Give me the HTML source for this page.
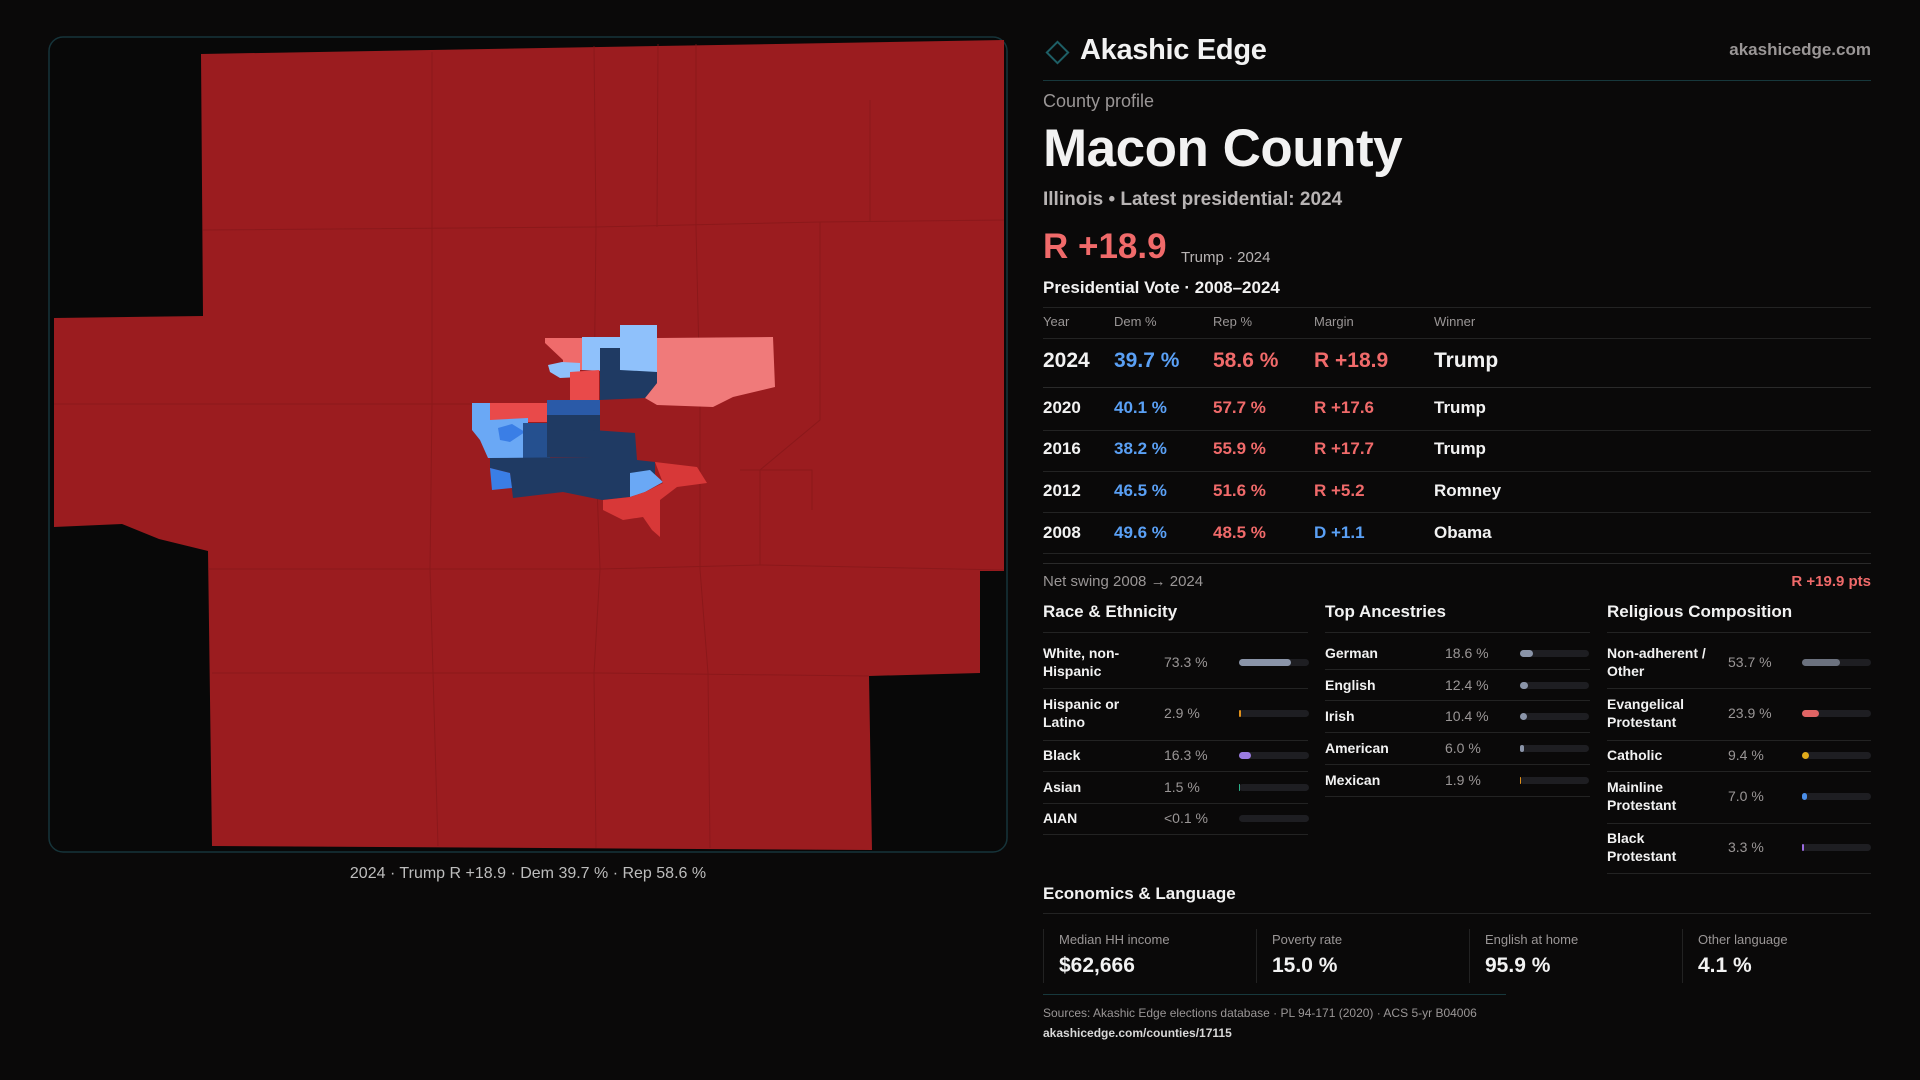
<!DOCTYPE html>
<html><head><meta charset="utf-8"><style>
*{margin:0;padding:0;box-sizing:border-box}
body{width:1920px;height:1080px;background:#0a0909;font-family:"Liberation Sans",sans-serif;color:#f2f2f2;position:relative;overflow:hidden}
.t{position:absolute;white-space:nowrap}
.hl{position:absolute;height:1px;background:#232323}
.g{color:#9a9696}
.b{color:#5aa0f5}.r{color:#f06a6a}
.bar{position:absolute;height:7px;border-radius:4px;background:#1e1e22}
.bar i{position:absolute;left:0;top:0;bottom:0;border-radius:4px}
.two{white-space:normal;line-height:18px;font-size:14px;font-weight:600;width:100px}
</style></head><body>
<svg style="position:absolute;left:0;top:0" width="1920" height="1080" viewBox="0 0 1920 1080">
<rect x="49" y="37" width="958" height="815" rx="14" fill="#080808" stroke="#16343a" stroke-width="1.5"/>
<polygon fill="#9b1c1f" points="201,54 1004,40 1004,571 980,571 980,673 869,676 872,850 212,846 208,551 159,539 122,524 54,527 54,318 203,316"/>
<g stroke="#851719" stroke-width="1" fill="none" opacity="0.7">
<polyline points="432,52 432,404 430,569 438,846"/>
<polyline points="594,46 596,227 594,404 600,569 594,673 596,848"/>
<polyline points="658,44 657,227"/>
<polyline points="696,44 696,227 700,400 700,569 708,673 710,848"/>
<polyline points="203,230 594,227 820,222 1004,220"/>
<polyline points="54,404 432,404 600,404"/>
<polyline points="208,569 600,569 760,565 1004,570"/>
<polyline points="212,673 600,673 869,676"/>
<polyline points="820,222 820,420 760,470 760,565"/>
<polyline points="870,100 870,222"/>
<polyline points="740,470 812,470 812,510"/>
</g>
<polygon fill="#f07a7a" points="657,338 773,337 775,387 733,397 713,407 657,405 645,398 657,383"/>
<polygon fill="#8fc1fb" points="582,337 620,337 620,325 657,325 657,373 582,370"/>
<polygon fill="#1f3a63" points="600,348 620,348 620,370 657,372 657,383 645,398 600,400"/>
<polygon fill="#ef6b6b" points="545,338 582,338 582,370 563,370 563,360 545,343"/>
<polygon fill="#8fc1fb" points="548,365 562,362 580,363 580,377 560,378 550,372"/>
<polygon fill="#e94a4a" points="570,372 599,370 599,400 570,400"/>
<polygon fill="#e94a4a" points="490,403 547,403 547,422 490,422"/>
<polygon fill="#6aa8f5" points="472,403 490,403 490,420 528,418 528,458 488,458 480,440 472,430"/>
<polygon fill="#3a7ee6" points="498,428 512,424 525,432 510,442 500,440"/>
<polygon fill="#25508f" points="523,423 550,423 550,458 523,458"/>
<polygon fill="#1f3a63" points="547,400 600,400 600,457 547,457"/>
<polygon fill="#2a5aa8" points="547,400 600,400 600,415 547,415"/>
<polygon fill="#1f3a63" points="490,458 593,457 593,430 635,433 637,460 655,462 655,477 637,483 630,497 602,500 563,492 513,498 510,473 490,468"/>
<polygon fill="#3a7ee6" points="490,468 510,473 512,488 492,490"/>
<polygon fill="#6aa8f5" points="630,473 650,470 663,482 645,492 630,497"/>
<polygon fill="#d83838" points="655,462 697,467 707,483 677,487 660,500 660,537 652,530 643,517 623,520 603,510 603,500 630,497 645,492 663,483"/>
</svg>
<div class="t" style="left:0;width:1056px;text-align:center;top:865px;font-size:16px;color:#bdbdbd">2024 · Trump R +18.9 · Dem 39.7 % · Rep 58.6 %</div>

<div class="t" style="left:1049px;top:44px;width:17px;height:17px;border:2px solid #1e5f66;transform:rotate(45deg)"></div>
<div class="t" style="left:1080px;top:32px;font-size:29px;font-weight:700;line-height:36px;letter-spacing:-0.3px">Akashic Edge</div>
<div class="t g" style="right:49px;top:40px;font-size:17px;font-weight:600">akashicedge.com</div>
<div class="hl" style="left:1043px;width:828px;top:80px;background:#17383c"></div>
<div class="t g" style="left:1043px;top:91px;font-size:18px">County profile</div>
<div class="t" style="left:1043px;top:119px;font-size:53px;font-weight:700;line-height:60px;letter-spacing:-0.5px">Macon County</div>
<div class="t" style="left:1043px;top:189px;font-size:19px;font-weight:600;color:#b8b4b4">Illinois • Latest presidential: 2024</div>
<div class="t r" style="left:1043px;top:226px;font-size:35px;font-weight:600;line-height:42px">R +18.9</div>
<div class="t g" style="left:1181px;top:249px;font-size:15px;color:#b8b4b4">Trump · 2024</div>
<div class="t" style="left:1043px;top:278px;font-size:17px;font-weight:700">Presidential Vote · 2008–2024</div>
<div class="hl" style="left:1043px;width:828px;top:307px"></div>
<div class="t g" style="left:1043px;top:314px;font-size:13px">Year</div>
<div class="t g" style="left:1114px;top:314px;font-size:13px">Dem %</div>
<div class="t g" style="left:1213px;top:314px;font-size:13px">Rep %</div>
<div class="t g" style="left:1314px;top:314px;font-size:13px">Margin</div>
<div class="t g" style="left:1434px;top:314px;font-size:13px">Winner</div>
<div class="hl" style="left:1043px;width:828px;top:338px"></div>
<div style="position:absolute;left:1043px;top:349px;font-size:21px;font-weight:700;line-height:24px">
<span class="t" style="left:0">2024</span><span class="t b" style="left:71px">39.7 %</span><span class="t r" style="left:170px">58.6 %</span><span class="t r" style="left:271px">R +18.9</span><span class="t" style="left:391px">Trump</span></div>
<div class="hl" style="left:1043px;width:828px;top:387px;background:#2a2a2a"></div>
<div style="position:absolute;left:1043px;top:398px;font-size:17px;font-weight:600;line-height:20px">
<span class="t" style="left:0">2020</span><span class="t b" style="left:71px">40.1 %</span><span class="t r" style="left:170px">57.7 %</span><span class="t r" style="left:271px">R +17.6</span><span class="t" style="left:391px">Trump</span></div>
<div class="hl" style="left:1043px;width:828px;top:430px"></div>
<div style="position:absolute;left:1043px;top:439px;font-size:17px;font-weight:600;line-height:20px">
<span class="t" style="left:0">2016</span><span class="t b" style="left:71px">38.2 %</span><span class="t r" style="left:170px">55.9 %</span><span class="t r" style="left:271px">R +17.7</span><span class="t" style="left:391px">Trump</span></div>
<div class="hl" style="left:1043px;width:828px;top:471px"></div>
<div style="position:absolute;left:1043px;top:481px;font-size:17px;font-weight:600;line-height:20px">
<span class="t" style="left:0">2012</span><span class="t b" style="left:71px">46.5 %</span><span class="t r" style="left:170px">51.6 %</span><span class="t r" style="left:271px">R +5.2</span><span class="t" style="left:391px">Romney</span></div>
<div class="hl" style="left:1043px;width:828px;top:512px"></div>
<div style="position:absolute;left:1043px;top:523px;font-size:17px;font-weight:600;line-height:20px">
<span class="t" style="left:0">2008</span><span class="t b" style="left:71px">49.6 %</span><span class="t r" style="left:170px">48.5 %</span><span class="t b" style="left:271px">D +1.1</span><span class="t" style="left:391px">Obama</span></div>
<div class="hl" style="left:1043px;width:828px;top:553px"></div>
<div class="hl" style="left:1043px;width:828px;top:563px;background:#2a2a2a"></div>
<div class="t g" style="left:1043px;top:573px;font-size:15px">Net swing 2008 → 2024</div>
<div class="t r" style="right:49px;top:573px;font-size:15px;font-weight:600">R +19.9 pts</div>

<div class="t" style="left:1043px;top:602px;font-size:17px;font-weight:700">Race &amp; Ethnicity</div>
<div class="t" style="left:1325px;top:602px;font-size:17px;font-weight:700">Top Ancestries</div>
<div class="t" style="left:1607px;top:602px;font-size:17px;font-weight:700">Religious Composition</div>
<div class="hl" style="left:1043px;width:265px;top:632px"></div>
<div class="hl" style="left:1325px;width:265px;top:632px"></div>
<div class="hl" style="left:1607px;width:264px;top:632px"></div>

<div class="t two" style="left:1043px;top:644px">White, non-Hispanic</div>
<div class="t g" style="left:1164px;top:654px;font-size:14px">73.3 %</div>
<div class="bar" style="left:1239px;width:70px;top:659px"><i style="width:52px;background:#8a94a8"></i></div>
<div class="hl" style="left:1043px;width:265px;top:688px"></div>
<div class="t two" style="left:1043px;top:695px">Hispanic or Latino</div>
<div class="t g" style="left:1164px;top:705px;font-size:14px">2.9 %</div>
<div class="bar" style="left:1239px;width:70px;top:710px"><i style="width:2px;background:#e0901a"></i></div>
<div class="hl" style="left:1043px;width:265px;top:740px"></div>
<div class="t" style="left:1043px;top:747px;font-size:14px;font-weight:600">Black</div>
<div class="t g" style="left:1164px;top:747px;font-size:14px">16.3 %</div>
<div class="bar" style="left:1239px;width:70px;top:752px"><i style="width:12px;background:#9a7be0"></i></div>
<div class="hl" style="left:1043px;width:265px;top:771px"></div>
<div class="t" style="left:1043px;top:779px;font-size:14px;font-weight:600">Asian</div>
<div class="t g" style="left:1164px;top:779px;font-size:14px">1.5 %</div>
<div class="bar" style="left:1239px;width:70px;top:784px"><i style="width:1px;background:#2ab38a"></i></div>
<div class="hl" style="left:1043px;width:265px;top:803px"></div>
<div class="t" style="left:1043px;top:810px;font-size:14px;font-weight:600">AIAN</div>
<div class="t g" style="left:1164px;top:810px;font-size:14px">&lt;0.1 %</div>
<div class="bar" style="left:1239px;width:70px;top:815px"></div>
<div class="hl" style="left:1043px;width:265px;top:834px"></div>

<div class="t" style="left:1325px;top:645px;font-size:14px;font-weight:600">German</div>
<div class="t g" style="left:1445px;top:645px;font-size:14px">18.6 %</div>
<div class="bar" style="left:1520px;width:69px;top:650px"><i style="width:13px;background:#8a94a8"></i></div>
<div class="hl" style="left:1325px;width:265px;top:669px"></div>
<div class="t" style="left:1325px;top:677px;font-size:14px;font-weight:600">English</div>
<div class="t g" style="left:1445px;top:677px;font-size:14px">12.4 %</div>
<div class="bar" style="left:1520px;width:69px;top:682px"><i style="width:8px;background:#8a94a8"></i></div>
<div class="hl" style="left:1325px;width:265px;top:700px"></div>
<div class="t" style="left:1325px;top:708px;font-size:14px;font-weight:600">Irish</div>
<div class="t g" style="left:1445px;top:708px;font-size:14px">10.4 %</div>
<div class="bar" style="left:1520px;width:69px;top:713px"><i style="width:7px;background:#8a94a8"></i></div>
<div class="hl" style="left:1325px;width:265px;top:732px"></div>
<div class="t" style="left:1325px;top:740px;font-size:14px;font-weight:600">American</div>
<div class="t g" style="left:1445px;top:740px;font-size:14px">6.0 %</div>
<div class="bar" style="left:1520px;width:69px;top:745px"><i style="width:4px;background:#8a94a8"></i></div>
<div class="hl" style="left:1325px;width:265px;top:764px"></div>
<div class="t" style="left:1325px;top:772px;font-size:14px;font-weight:600">Mexican</div>
<div class="t g" style="left:1445px;top:772px;font-size:14px">1.9 %</div>
<div class="bar" style="left:1520px;width:69px;top:777px"><i style="width:1px;background:#e0901a"></i></div>
<div class="hl" style="left:1325px;width:265px;top:796px"></div>

<div class="t two" style="left:1607px;top:644px">Non-adherent / Other</div>
<div class="t g" style="left:1728px;top:654px;font-size:14px">53.7 %</div>
<div class="bar" style="left:1802px;width:69px;top:659px"><i style="width:38px;background:#6b717e"></i></div>
<div class="hl" style="left:1607px;width:264px;top:688px"></div>
<div class="t two" style="left:1607px;top:695px">Evangelical Protestant</div>
<div class="t g" style="left:1728px;top:705px;font-size:14px">23.9 %</div>
<div class="bar" style="left:1802px;width:69px;top:710px"><i style="width:17px;background:#e06464"></i></div>
<div class="hl" style="left:1607px;width:264px;top:740px"></div>
<div class="t" style="left:1607px;top:747px;font-size:14px;font-weight:600">Catholic</div>
<div class="t g" style="left:1728px;top:747px;font-size:14px">9.4 %</div>
<div class="bar" style="left:1802px;width:69px;top:752px"><i style="width:7px;background:#e0aa1a"></i></div>
<div class="hl" style="left:1607px;width:264px;top:771px"></div>
<div class="t two" style="left:1607px;top:778px">Mainline Protestant</div>
<div class="t g" style="left:1728px;top:788px;font-size:14px">7.0 %</div>
<div class="bar" style="left:1802px;width:69px;top:793px"><i style="width:5px;background:#4a8ee8"></i></div>
<div class="hl" style="left:1607px;width:264px;top:823px"></div>
<div class="t two" style="left:1607px;top:829px">Black Protestant</div>
<div class="t g" style="left:1728px;top:839px;font-size:14px">3.3 %</div>
<div class="bar" style="left:1802px;width:69px;top:844px"><i style="width:2px;background:#9a6be0"></i></div>
<div class="hl" style="left:1607px;width:264px;top:873px"></div>

<div class="t" style="left:1043px;top:884px;font-size:17px;font-weight:700">Economics &amp; Language</div>
<div class="hl" style="left:1043px;width:828px;top:913px"></div>
<div class="t" style="left:1043px;top:929px;width:1px;height:54px;background:#222"></div>
<div class="t" style="left:1256px;top:929px;width:1px;height:54px;background:#222"></div>
<div class="t" style="left:1469px;top:929px;width:1px;height:54px;background:#222"></div>
<div class="t" style="left:1682px;top:929px;width:1px;height:54px;background:#222"></div>
<div class="t g" style="left:1059px;top:932px;font-size:13px">Median HH income</div>
<div class="t g" style="left:1272px;top:932px;font-size:13px">Poverty rate</div>
<div class="t g" style="left:1485px;top:932px;font-size:13px">English at home</div>
<div class="t g" style="left:1698px;top:932px;font-size:13px">Other language</div>
<div class="t" style="left:1059px;top:954px;font-size:21px;font-weight:700">$62,666</div>
<div class="t" style="left:1272px;top:954px;font-size:21px;font-weight:700">15.0 %</div>
<div class="t" style="left:1485px;top:954px;font-size:21px;font-weight:700">95.9 %</div>
<div class="t" style="left:1698px;top:954px;font-size:21px;font-weight:700">4.1 %</div>
<div class="hl" style="left:1043px;width:463px;top:994px;background:#17383c"></div>
<div class="t g" style="left:1043px;top:1006px;font-size:12px">Sources: Akashic Edge elections database · PL 94-171 (2020) · ACS 5-yr B04006</div>
<div class="t" style="left:1043px;top:1026px;font-size:12px;font-weight:600;color:#d8d8d8">akashicedge.com/counties/17115</div>
</body></html>
